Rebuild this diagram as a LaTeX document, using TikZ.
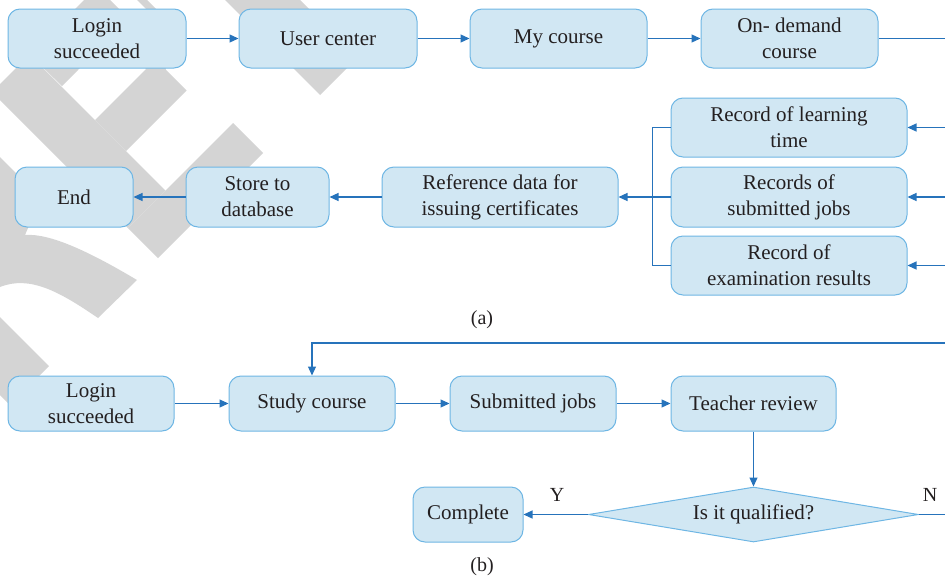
\documentclass[tikz,border=0pt]{standalone}
\usepackage{fontspec}
\setmainfont{Liberation Serif}
\newfontfamily\labelface{Liberation Serif}
\usetikzlibrary{arrows.meta,shapes.geometric}

\definecolor{boxfill}{RGB}{209,231,243}
\definecolor{boxline}{RGB}{110,182,228}
\definecolor{flow}{RGB}{38,115,187}
\definecolor{ink}{RGB}{35,31,32}
\definecolor{markgray}{RGB}{212,212,212}

\begin{document}
\begin{tikzpicture}[x=1pt,y=-1pt,
  stage/.style={draw=boxline, fill=boxfill, line width=1pt, rounded corners=12pt,
    align=center, text=ink, inner sep=0pt, minimum height=59pt,
    font=\labelface\fontsize{21}{26}\selectfont},
  test/.style={diamond, aspect=6, draw=boxline, fill=boxfill, line width=1pt,
    inner sep=0pt, text=ink, minimum width=330pt, minimum height=55pt,
    font=\labelface\fontsize{21}{26}\selectfont},
  flowline/.style={draw=flow, line width=1.2pt},
  flowarrow/.style={flowline, -{Triangle[length=9pt,width=8pt]}},
  tag/.style={text=ink, inner sep=0pt, font=\labelface\fontsize{20}{24}\selectfont},
  lettering/.style={fill=markgray, draw=none}
]
\useasboundingbox (0,0) rectangle (945,581);

% background lettering
\begin{scope}
  \clip (0,0) rectangle (945,581);
  \path[lettering] (-8,92) -- (29.5,54.5) -- (165.5,190.5) -- (128,228) -- cycle;
  \path[lettering] (233,123) -- (263,153) -- (158,258) -- (128,228) -- cycle;
  \path[lettering] (29.5,54.5) -- (84,0) -- (110,0) -- (118,8) -- (160,40) -- (166,70)
     -- (186.5,90.5) -- (126,151) -- (95,120) -- (146,69) -- (120,40) -- (100,45)
     -- (78,70) -- (62,86) -- cycle;
  \path[lettering] (137,0) -- (147,0) -- (156,9) -- (146,9) -- cycle;
  \path[lettering] (225,0) -- (300,0) -- (357.5,57.5) -- (320,95) -- cycle;
  \path[lettering] (0,157) -- (30,187) -- (28,228) -- (25,235)
     .. controls (50,233) and (90,252) .. (137,280) -- (98,318)
     .. controls (60,292) and (30,275) .. (0,287) -- cycle;
  \path[lettering] (0,317) -- (49,366) -- (10,405) -- (0,395) -- cycle;
\end{scope}

% (a) top row
\node[stage, minimum width=178pt] (login) at (97,38.5) {Login\\succeeded};
\node[stage, minimum width=178pt] (user) at (328,38.5) {User center};
\node[stage, minimum width=177pt] (mycourse) at (558.5,38.5) {My course};
\node[stage, minimum width=177pt] (demand) at (789.5,38.5) {On- demand\\course};
\coordinate (outa) at (945,38.5);

% (a) second row
\node[stage, minimum width=118pt, minimum height=60pt] (theend) at (74,197) {End};
\node[stage, minimum width=143pt, minimum height=60pt] (store) at (257.5,197) {Store to\\database};
\node[stage, minimum width=236pt, minimum height=60pt] (refdata) at (500,197) {Reference data for\\issuing certificates};
\node[stage, minimum width=236pt] (rtime) at (789,127.5) {Record of learning\\time};
\node[stage, minimum width=236pt, minimum height=60pt] (rjobs) at (789,197) {Records of\\submitted jobs};
\node[stage, minimum width=236pt] (rexam) at (789,265.5) {Record of\\examination results};
\coordinate (intime) at (945,127.5);
\coordinate (injobs) at (945,197);
\coordinate (inexam) at (945,265.5);

\draw[flowarrow] (login) -- (user);
\draw[flowarrow] (user) -- (mycourse);
\draw[flowarrow] (mycourse) -- (demand);
\draw[flowline] (demand) -- (outa);
\draw[flowarrow] (intime) -- (rtime);
\draw[flowarrow] (injobs) -- (rjobs);
\draw[flowarrow] (inexam) -- (rexam);
\draw[flowline] (rtime.west) -- ++(-18,0) |- (rexam.west);
\draw[flowarrow] (rjobs.west) -- (refdata.east);
\draw[flowarrow] (refdata) -- (store);
\draw[flowarrow] (store) -- (theend);

\node[tag] (capa) at (482,320) {(a)};

% (b)
\node[stage, minimum width=166pt, minimum height=55pt] (loginb) at (91,403.5) {Login\\succeeded};
\node[stage, minimum width=166pt, minimum height=55pt] (study) at (312,403.5) {Study course};
\node[stage, minimum width=166pt, minimum height=55pt] (submit) at (533,403.5) {Submitted jobs};
\node[stage, minimum width=165pt, minimum height=55pt] (review) at (753.5,403.5) {Teacher review};
\node[test] (qualified) at (753.5,514.5) {Is it qualified?};
\node[stage, minimum width=110pt, minimum height=55pt] (complete) at (468,514.5) {Complete};
\coordinate (backin) at (945,343);
\coordinate (outn) at (945,514.5);

\draw[flowarrow] (loginb) -- (study);
\draw[flowarrow] (study) -- (submit);
\draw[flowarrow] (submit) -- (review);
\draw[flowarrow] (review) -- (qualified);
\draw[flowarrow] (qualified) -- (complete);
\draw[flowline] (qualified) -- (outn);
\draw[flowarrow] (backin) -| (study.north);

\node[tag] (yes) at (557,495) {Y};
\node[tag] (no) at (930,495) {N};
\node[tag] (capb) at (482,567) {(b)};
\end{tikzpicture}
\end{document}
